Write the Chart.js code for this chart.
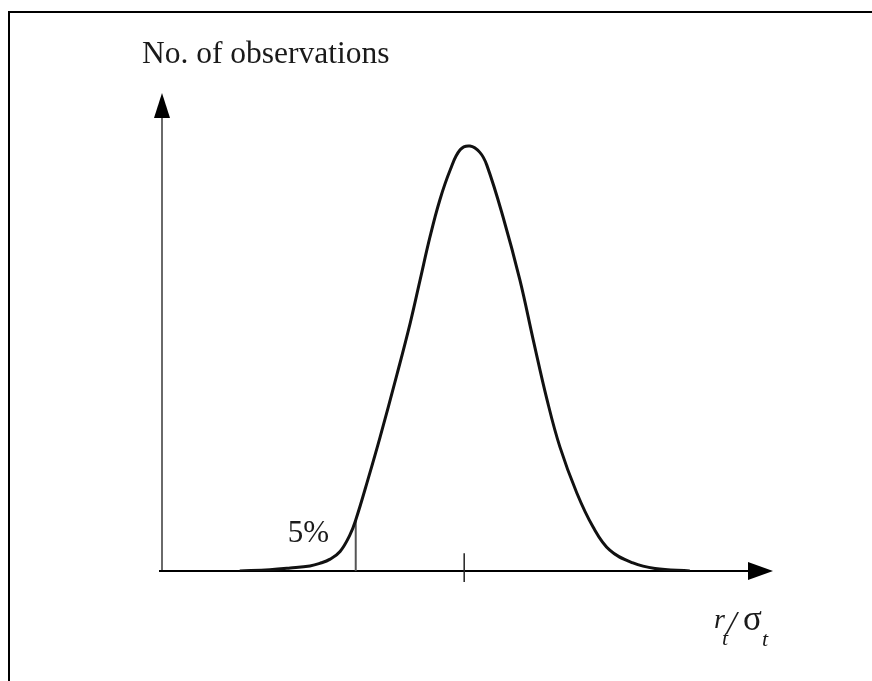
<!DOCTYPE html>
<html>
<head>
<meta charset="utf-8">
<script src="https://cdn.jsdelivr.net/npm/chart.js@4.4.1/dist/chart.umd.min.js"></script>
<style>
  html, body { margin: 0; padding: 0; background: #fff; }
  #wrap { position: relative; width: 872px; height: 681px; overflow: hidden; }
  #frame { position: absolute; left: 8px; top: 11px; width: 900px; height: 700px;
           border-top: 2px solid #000; border-left: 2px solid #000; box-sizing: border-box; }
  canvas { position: absolute; left: 0; top: 0; }
</style>
</head>
<body>
<div id="wrap">
  <div id="frame"></div>
  <canvas id="c" width="872" height="681"></canvas>
</div>
<script>
// Curve readings (x in sigma-like units, y relative to peak height)
const curveX = [-3.97, -3.45, -3.10, -2.76, -2.59, -2.41, -2.24, -2.07, -1.97, -1.76, -1.55, -1.26, -1.03, -0.86, -0.69, -0.52, -0.34, -0.17, 0.00, 0.17, 0.29, 0.57, 0.86, 1.09, 1.33, 1.55, 1.84, 2.12, 2.41, 2.81, 3.19, 3.79];
const curveY = [0.000, 0.003, 0.007, 0.012, 0.018, 0.028, 0.046, 0.085, 0.120, 0.215, 0.315, 0.462, 0.584, 0.685, 0.786, 0.873, 0.944, 0.991, 1.000, 0.985, 0.955, 0.833, 0.685, 0.544, 0.402, 0.292, 0.184, 0.104, 0.049, 0.019, 0.006, 0.000];
// 5% cut-off marker
const cutoffX = [-1.97, -1.97];
const cutoffY = [0.000, 0.120];
// centre tick
const tickX = [-0.10, -0.10];
const tickY = [-0.026, 0.042];
// axis ranges
const xRange = [-5.31, 5.224];
const yRange = [0, 1.1247];
// labels
const yAxisLabel = "No. of observations";
const cutoffLabel = "5%";

const pts = (xs, ys) => xs.map((x, i) => ({ x: x, y: ys[i] }));

const axesPlugin = {
  id: 'axesArrows',
  beforeDatasetsDraw(chart) {
    const ctx = chart.ctx;
    const xs = chart.scales.x, ys = chart.scales.y;
    const x0 = xs.getPixelForValue(xRange[0]);
    const xEnd = xs.getPixelForValue(xRange[1]);
    const y0 = ys.getPixelForValue(0);
    const yTop = ys.getPixelForValue(yRange[1]);
    ctx.save();
    // y axis
    ctx.strokeStyle = '#6a6a6a';
    ctx.lineWidth = 2;
    ctx.beginPath();
    ctx.moveTo(x0, y0);
    ctx.lineTo(x0, yTop + 20);
    ctx.stroke();
    ctx.fillStyle = '#000';
    ctx.beginPath();
    ctx.moveTo(x0, yTop);
    ctx.lineTo(x0 - 8, yTop + 25);
    ctx.lineTo(x0 + 8, yTop + 25);
    ctx.closePath();
    ctx.fill();
    // x axis
    ctx.strokeStyle = '#000';
    ctx.lineWidth = 2;
    ctx.beginPath();
    ctx.moveTo(x0 - 3, y0);
    ctx.lineTo(xEnd - 20, y0);
    ctx.stroke();
    ctx.beginPath();
    ctx.moveTo(xEnd, y0);
    ctx.lineTo(xEnd - 25, y0 - 9);
    ctx.lineTo(xEnd - 25, y0 + 9);
    ctx.closePath();
    ctx.fill();
    ctx.restore();
  },
  afterDraw(chart) {
    const ctx = chart.ctx;
    const xs = chart.scales.x, ys = chart.scales.y;
    const x0 = xs.getPixelForValue(xRange[0]);
    const xEnd = xs.getPixelForValue(xRange[1]);
    const y0 = ys.getPixelForValue(0);
    ctx.save();
    ctx.fillStyle = '#1a1a1a';
    ctx.textBaseline = 'alphabetic';
    ctx.textAlign = 'left';
    ctx.font = '31.5px "Liberation Serif"';
    ctx.fillText(yAxisLabel, x0 - 20, 63);
    const cx = xs.getPixelForValue(cutoffX[0]);
    ctx.font = '31px "Liberation Serif"';
    ctx.fillText(cutoffLabel, cx - 68, 542);
    // r_t / sigma_t
    const bx = xEnd - 59, by = y0 + 57;
    ctx.font = 'italic 28px "Liberation Serif"';
    ctx.fillText('r', bx, by);
    ctx.font = 'italic 22px "Liberation Serif"';
    ctx.fillText('t', bx + 8, by + 17);
    ctx.font = 'italic 34px "Liberation Serif"';
    ctx.fillText('/', bx + 13, by + 6);
    ctx.font = '35px "Liberation Serif"';
    ctx.fillText('σ', bx + 29, by + 2);
    ctx.font = 'italic 22px "Liberation Serif"';
    ctx.fillText('t', bx + 48, by + 18);
    ctx.restore();
  }
};

new Chart(document.getElementById('c'), {
  type: 'scatter',
  data: {
    datasets: [
      { data: pts(curveX, curveY), showLine: true, borderColor: '#111', borderWidth: 3,
        pointRadius: 0, tension: 0.4, fill: false },
      { data: pts(cutoffX, cutoffY), showLine: true, borderColor: '#555', borderWidth: 2, pointRadius: 0 },
      { data: pts(tickX, tickY), showLine: true, borderColor: '#222', borderWidth: 1.5, pointRadius: 0, clip: false }
    ]
  },
  options: {
    responsive: false,
    animation: false,
    events: [],
    layout: { padding: { left: 162, right: 99, top: 93, bottom: 110 } },
    plugins: { legend: { display: false }, tooltip: { enabled: false }, title: { display: false } },
    scales: {
      x: { type: 'linear', display: false, min: xRange[0], max: xRange[1] },
      y: { type: 'linear', display: false, min: yRange[0], max: yRange[1] }
    }
  },
  plugins: [axesPlugin]
});
</script>
</body>
</html>
